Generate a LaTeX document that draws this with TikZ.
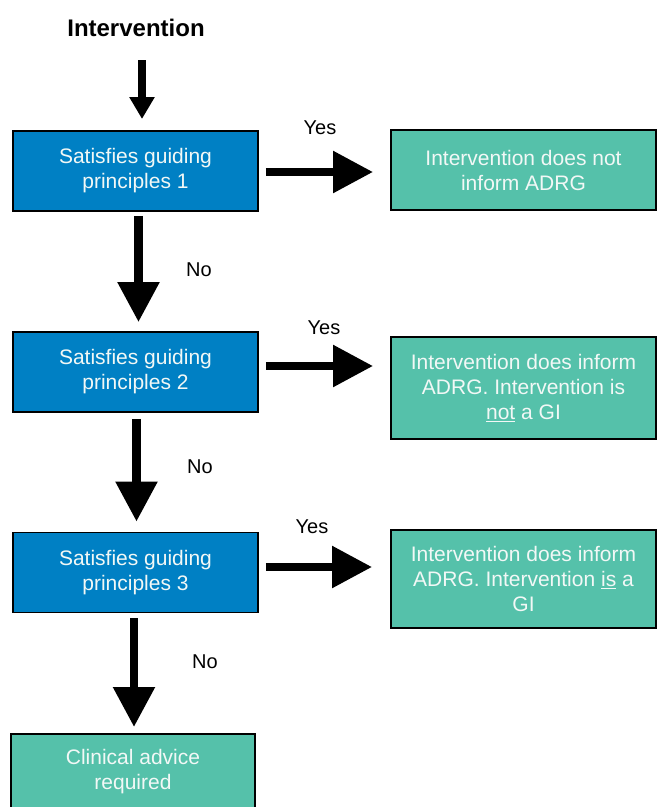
\documentclass[tikz,border=0pt]{standalone}
\usepackage{fontspec}
\setmainfont{Liberation Sans}
\usetikzlibrary{arrows.meta}
\definecolor{boxblue}{HTML}{0080C4}
\definecolor{boxteal}{HTML}{55C1AA}
\definecolor{txtwhite}{HTML}{F2F8F6}
\begin{document}
\begin{tikzpicture}[x=1pt,y=-1pt,
  basebox/.style={draw=black,line width=1.8pt,text=txtwhite,align=center,
    font=\fontsize{21}{25}\selectfont,inner sep=0pt},
  bluebox/.style={basebox,fill=boxblue,minimum width=245pt,minimum height=80pt},
  tealbox/.style={basebox,fill=boxteal,minimum width=265pt},
  lbl/.style={font=\fontsize{20}{24}\selectfont,text=black},
  smallarr/.style={line width=8pt,-{Triangle[width=24pt,length=22pt]}},
  bigarr/.style={line width=8.5pt,-{Triangle[width=40pt,length=40pt]}}]
\clip (0,0) rectangle (657,807);
\useasboundingbox (0,0) rectangle (657,807);
\node[font=\bfseries\fontsize{24}{28}\selectfont] (title) at (136,28) {Intervention};
\node[bluebox] (b1) at (135.5,171) {Satisfies guiding\\principles 1};
\node[bluebox] (b2) at (135.5,372) {Satisfies guiding\\principles 2};
\node[bluebox] (b3) at (135.5,572.5) {Satisfies guiding\\principles 3};
\node[basebox,fill=boxteal,minimum width=244pt,minimum height=76pt,anchor=north] (b4) at (133,733) {Clinical advice\\required};
\node[tealbox,minimum height=80pt] (r1) at (523.5,170) {Intervention does not\\inform ADRG};
\node[tealbox,minimum height=102pt] (r2) at (523.5,388) {Intervention does inform\\ADRG. Intervention is\\\underline{not} a GI};
\node[tealbox,minimum height=98pt] (r3) at (523.5,579) {Intervention does inform\\ADRG. Intervention \underline{is} a\\GI};
% labels
\node[lbl] (y1) at (320,128) {Yes};
\node[lbl] (y2) at (324,328) {Yes};
\node[lbl] (y3) at (312,527) {Yes};
\node[lbl] (n1) at (199,270) {No};
\node[lbl] (n2) at (200,467) {No};
\node[lbl] (n3) at (205,662) {No};
% connectors
\coordinate (t0) at (142,60);
\coordinate (t1) at (142,119);
\draw[smallarr] (t0) -- (t1);
\draw[bigarr,shorten <=7pt,shorten >=17pt] ([yshift=-1pt]b1.east) -- ([yshift=-1pt]b1.east -| r1.west);
\draw[bigarr,shorten <=7pt,shorten >=17pt] ([yshift=6pt]b2.east) -- ([yshift=6pt]b2.east -| r2.west);
\draw[bigarr,shorten <=7pt,shorten >=18pt] ([yshift=5.5pt]b3.east) -- ([yshift=5.5pt]b3.east -| r3.west);
\draw[bigarr,shorten <=4pt,shorten >=9pt] ([xshift=3pt]b1.south) -- ([xshift=3pt]b2.north);
\draw[bigarr,shorten <=6pt,shorten >=10pt] ([xshift=1pt]b2.south) -- ([xshift=1pt]b2.south |- b3.north);
\draw[bigarr,shorten <=5pt,shorten >=6pt] ([xshift=-1.5pt]b3.south) -- ([xshift=-1.5pt]b3.south |- b4.north);
\end{tikzpicture}
\end{document}
